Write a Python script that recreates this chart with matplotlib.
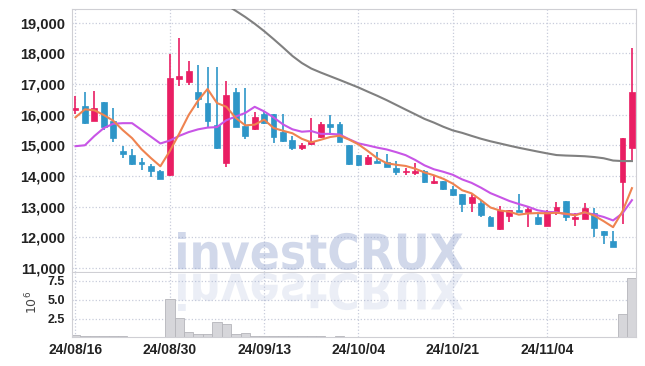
import numpy as np
import matplotlib.pyplot as plt
from matplotlib.ticker import FuncFormatter
from matplotlib.textpath import TextPath
from matplotlib.patches import PathPatch
from matplotlib.font_manager import FontProperties
from matplotlib.transforms import Affine2D

plt.rcParams['font.family'] = ['Liberation Sans', 'DejaVu Sans']

# trading days (KRX), 24/08/16 .. 24/11/15
dates = ['24/08/16',
         '24/08/19', '24/08/20', '24/08/21', '24/08/22', '24/08/23',
         '24/08/26', '24/08/27', '24/08/28', '24/08/29', '24/08/30',
         '24/09/02', '24/09/03', '24/09/04', '24/09/05', '24/09/06',
         '24/09/09', '24/09/10', '24/09/11', '24/09/12', '24/09/13',
         '24/09/19', '24/09/20',
         '24/09/23', '24/09/24', '24/09/25', '24/09/26', '24/09/27',
         '24/09/30', '24/10/02', '24/10/04',
         '24/10/07', '24/10/08', '24/10/10', '24/10/11',
         '24/10/14', '24/10/15', '24/10/16', '24/10/17', '24/10/18',
         '24/10/21', '24/10/22', '24/10/23', '24/10/24', '24/10/25',
         '24/10/28', '24/10/29', '24/10/30', '24/10/31', '24/11/01',
         '24/11/04', '24/11/05', '24/11/06', '24/11/07', '24/11/08',
         '24/11/11', '24/11/12', '24/11/13', '24/11/14', '24/11/15']

opens = [16160, 16280, 15800, 16400, 15790, 14810, 14680, 14460, 14330, 14150,
         14030, 17170, 17070, 16730, 16390, 15660, 14410, 16740, 15640, 15520,
         16020, 16020, 15440, 15170, 14900, 15030, 15260, 15690, 15690, 15000,
         14680, 14380, 14490, 14440, 14250, 14120, 14100, 14170, 13760, 13830,
         13570, 13410, 13110, 13110, 12670, 12260, 12700, 12890, 12810, 12650,
         12380, 12810, 13180, 12590, 12600, 12780, 12200, 11880, 13800, 14900]
highs = [16610, 16720, 16780, 16410, 16200, 14960, 14870, 14590, 14380, 14190,
         17970, 18480, 17740, 17610, 17540, 17540, 17100, 16870, 16850, 16100,
         16130, 16030, 16020, 15300, 15080, 15880, 15750, 15980, 15770, 15010,
         14690, 14680, 14790, 14710, 14500, 14250, 14410, 14180, 14030, 13850,
         13670, 13420, 13410, 13220, 12680, 13020, 12900, 13410, 12980, 12780,
         12890, 13160, 13190, 12800, 13110, 12940, 12210, 12200, 15240, 18180]
lows = [16010, 15680, 15780, 15510, 15100, 14570, 14370, 14190, 13980, 13890,
        14000, 16930, 16960, 16200, 15550, 14880, 14280, 15580, 15200, 15500,
        15690, 15060, 15110, 14840, 14840, 15010, 15240, 15330, 15100, 14370,
        14320, 14370, 14410, 14290, 14030, 14030, 14030, 13760, 13750, 13540,
        13340, 12830, 12810, 12670, 12360, 12250, 12500, 12810, 12330, 12410,
        12370, 12730, 12530, 12380, 12590, 12020, 11770, 11690, 12430, 14520]
closes = [16230, 15730, 16200, 15600, 15240, 14720, 14400, 14400, 14150, 13910,
          17190, 17250, 17430, 16500, 15800, 14900, 16640, 15600, 15310, 15910,
          15720, 15280, 15150, 14900, 15010, 15140, 15700, 15600, 15120, 14380,
          14360, 14610, 14430, 14300, 14140, 14160, 14170, 13810, 13830, 13560,
          13380, 13090, 13300, 12730, 12370, 12890, 12890, 12820, 12920, 12420,
          12860, 12980, 12670, 12650, 12940, 12290, 12080, 11700, 15230, 16720]

volume = [270000, 140000, 130000, 140000, 135000, 140000, 25000, 20000, 25000, 20000,
          5050000, 2520000, 700000, 440000, 440000, 2030000, 1770000, 440000, 570000, 150000,
          140000, 150000, 130000, 150000, 120000, 110000, 120000, 100000, 110000, 100000,
          25000, 20000, 25000, 20000, 20000, 25000, 20000, 20000, 25000, 20000,
          20000, 25000, 20000, 20000, 25000, 20000, 20000, 25000, 20000, 20000,
          25000, 20000, 20000, 25000, 20000, 20000, 25000, 20000, 3100000, 7830000]

ma5 = [15910, 16170, 16140, 15985, 15800, 15498, 15232, 14872, 14582, 14316,
       14810, 15380, 15986, 16456, 16834, 16376, 16253, 15887, 15649, 15671,
       15834, 15563, 15473, 15391, 15210, 15095, 15179, 15269, 15312, 15186,
       15030, 14811, 14577, 14414, 14365, 14326, 14239, 14115, 14022, 13907,
       13751, 13534, 13433, 13211, 12972, 12874, 12835, 12739, 12779, 12790,
       12783, 12801, 12770, 12716, 12820, 12707, 12527, 12331, 12847, 13602]
ma10 = [14970, 15000, 15300, 15560, 15700, 15720, 15720, 15500, 15280, 15058,
        15154, 15306, 15429, 15519, 15575, 15593, 15817, 15937, 16053, 16253,
        16105, 15908, 15680, 15520, 15441, 15464, 15371, 15371, 15351, 15198,
        15062, 14995, 14923, 14863, 14776, 14678, 14525, 14346, 14218, 14136,
        14039, 13887, 13774, 13617, 13440, 13313, 13185, 13086, 12995, 12881,
        12829, 12818, 12755, 12747, 12805, 12745, 12664, 12551, 12782, 13211]
ma60 = [np.nan] * 14 + [
        19950, 19750, 19570, 19380, 19180, 18960,
        18720, 18460, 18190, 17910, 17680, 17500, 17370, 17250, 17130, 17007,
        16883, 16746, 16612, 16469, 16316, 16163, 16013, 15860, 15739, 15603,
        15485, 15404, 15306, 15212, 15130, 15059, 14987, 14919, 14857, 14795,
        14736, 14681, 14665, 14655, 14642, 14616, 14577, 14502, 14485, 14485]

up_color = '#e91e63'
down_color = '#2e96c8'
grid_color = '#c8ccdb'
spine_color = '#cfcfd4'
text_color = '#222222'

x = np.arange(len(dates))
o = np.array(opens)
c = np.array(closes)
colors = [up_color if cc >= oo else down_color for oo, cc in zip(o, c)]

fig = plt.figure(figsize=(6.45, 3.66), dpi=100)
ax = fig.add_axes([0.1112, 0.2568, 0.8744, 0.7186])
axv = fig.add_axes([0.1112, 0.0784, 0.8744, 0.1757])

# candles
ax.vlines(x, lows, highs, colors=colors, linewidth=1.2, zorder=2)
ax.bar(x, np.maximum(np.abs(c - o), 25), bottom=np.minimum(o, c), width=0.62,
       color=colors, edgecolor=colors, linewidth=0.5, zorder=3)

# moving averages
ax.plot(x, ma60, color='#808080', linewidth=1.5, zorder=4)
ax.plot(x, ma10, color='#c855e6', linewidth=1.5, zorder=4)
ax.plot(x, ma5, color='#ef8350', linewidth=1.5, zorder=4)

ax.set_xlim(-0.4, 59.4)
ax.set_ylim(10870, 19440)
ax.set_yticks(np.arange(11000, 19001, 1000))
ax.yaxis.set_major_formatter(FuncFormatter(lambda v, p: f'{v:,.0f}'))
ax.set_xticks(x[::10])
ax.tick_params(axis='x', labelbottom=False, length=0)
ax.tick_params(axis='y', length=0, pad=5, labelsize=10.5, labelcolor=text_color)
for lab in ax.get_yticklabels():
    lab.set_fontweight('bold')
ax.grid(True, linestyle=':', color=grid_color, linewidth=0.9)
ax.set_axisbelow(True)
for s in ax.spines.values():
    s.set_color(spine_color)

# volume
axv.bar(x, volume, width=1.0, color='#d6d6da', edgecolor='#b5b5ba', linewidth=0.6, zorder=2)
axv.set_xlim(-0.4, 59.4)
axv.set_ylim(0, 8.55e6)
axv.set_yticks([2.5e6, 5.0e6, 7.5e6])
axv.yaxis.set_major_formatter(FuncFormatter(lambda v, p: f'{v / 1e6:.1f}'))
axv.set_xticks(x[::10])
axv.set_xticklabels([dates[i] for i in x[::10]])
axv.tick_params(axis='x', length=0, pad=4, labelsize=10, labelcolor=text_color)
axv.tick_params(axis='y', length=0, pad=5, labelsize=9, labelcolor=text_color)
for lab in axv.get_xticklabels() + axv.get_yticklabels():
    lab.set_fontweight('bold')
axv.grid(True, linestyle=':', color=grid_color, linewidth=0.9)
axv.set_axisbelow(True)
for name, s in axv.spines.items():
    s.set_color(spine_color)
axv.spines['top'].set_visible(False)
fig.text(32 / 645, 1 - 302 / 366, r'$10^{6}$', rotation=90, ha='center', va='center',
         fontsize=9, color='#444444', family='DejaVu Sans')

# watermark with reflection
tp = TextPath((0, 0), 'investCRUX', size=50,
              prop=FontProperties(family='DejaVu Sans', weight='bold'))
ext = tp.get_extents()
sx = 285 / ext.width
sy = 38 / ext.height
H = 366
main_tr = Affine2D().translate(-ext.x0, -ext.y0).scale(sx, sy).translate(178, H - 270)
refl_tr = Affine2D().translate(-ext.x0, -ext.y0).scale(sx, -sy).translate(178, H - 273)
fig.add_artist(PathPatch(tp, transform=main_tr, facecolor=(0.55, 0.62, 0.80),
                         edgecolor='none', alpha=0.4))
fig.add_artist(PathPatch(tp, transform=refl_tr, facecolor=(0.55, 0.62, 0.80),
                         edgecolor='none', alpha=0.17))

fig.savefig('out.png', dpi=100)
